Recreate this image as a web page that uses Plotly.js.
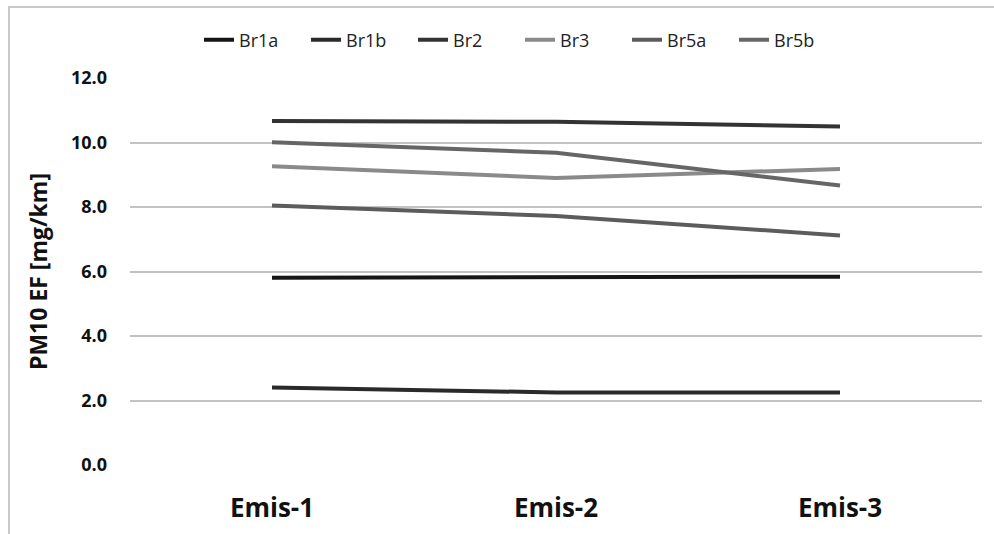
<!DOCTYPE html>
<html>
<head>
<meta charset="utf-8">
<script src="https://cdn.plot.ly/plotly-3.0.1.min.js"></script>
<style>
html,body{margin:0;padding:0;background:#fff;}
#frame{position:absolute;left:8px;top:6px;width:1000px;height:600px;border-left:2px solid #c8c8c8;border-top:2px solid #c8c8c8;}
#chart{position:absolute;left:0;top:0;width:994px;height:534px;}
</style>
</head>
<body>
<div id="frame"></div>
<div id="chart"></div>
<script>
var categories = ["Emis-1", "Emis-2", "Emis-3"];
var seriesNames = ["Br1a", "Br1b", "Br2", "Br3", "Br5a", "Br5b"];
var Br1a = [5.81, 5.82, 5.84];
var Br1b = [2.40, 2.25, 2.25];
var Br2  = [10.67, 10.64, 10.50];
var Br3  = [9.26, 8.90, 9.18];
var Br5a = [8.05, 7.72, 7.12];
var Br5b = [10.01, 9.68, 8.67];
var yTickVals = [0, 2, 4, 6, 8, 10, 12];
var yTickText = ["0.0", "2.0", "4.0", "6.0", "8.0", "10.0", "12.0"];

var seriesData = [Br1a, Br1b, Br2, Br3, Br5a, Br5b];
var colors = ["#161616", "#2a2a2a", "#333333", "#8a8a8a", "#5c5c5c", "#666666"];

var traces = seriesNames.map(function(n, i){
  return {
    type: "scatter", mode: "lines", name: n,
    x: categories, y: seriesData[i],
    line: {color: colors[i], width: 4}
  };
});

var font = "'Open Sans', sans-serif";
var layout = {
  width: 994, height: 534,
  paper_bgcolor: "rgba(0,0,0,0)", plot_bgcolor: "rgba(0,0,0,0)",
  margin: {l: 130, r: 12, t: 78, b: 69},
  showlegend: true,
  legend: {orientation: "h", x: 0.081, xanchor: "left", y: 1.098, yanchor: "middle",
           font: {family: font, size: 18, color: "#222"}, traceorder: "normal",
           itemwidth: 30, entrywidth: 62, entrywidthmode: "pixels"},
  xaxis: {
    type: "category", range: [-0.5, 2.5], showgrid: false, zeroline: false,
    showline: false, ticks: "", ticklabelstandoff: 25,
    tickfont: {family: font, size: 26, color: "#111", weight: "bold"}
  },
  yaxis: {
    range: [0, 12], tickvals: yTickVals, ticktext: yTickText,
    showgrid: true, gridcolor: "#c3c3c3", gridwidth: 2,
    zeroline: false, showline: false, ticks: "",
    tickfont: {family: font, size: 18, color: "#111", weight: "bold"},
    ticklabelstandoff: 22,
    title: {text: "PM10 EF [mg/km]", font: {family: font, size: 23, color: "#111", weight: "bold"}, standoff: 16}
  }
};

Plotly.newPlot("chart", traces, layout, {displayModeBar: false, staticPlot: true});
</script>
</body>
</html>
